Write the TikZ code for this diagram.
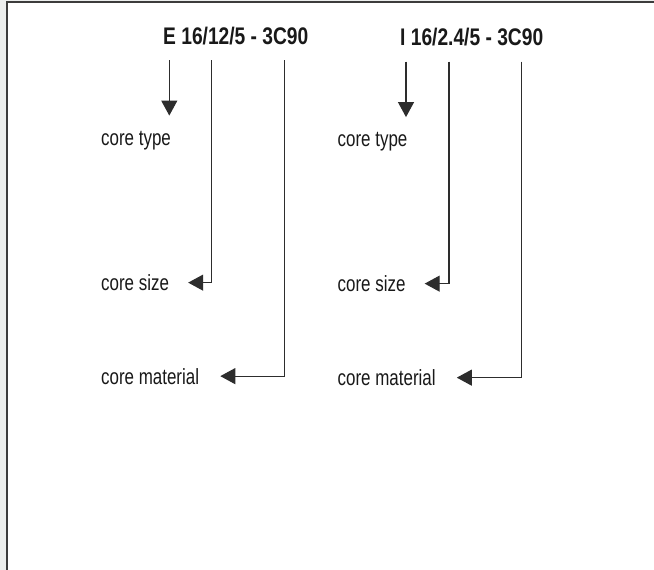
\documentclass[tikz,border=0pt]{standalone}
\usepackage{fontspec}
\newfontfamily\labelfont[FakeStretch=0.77]{Liberation Sans}
\newfontfamily\codefont[FakeStretch=0.8]{Liberation Sans}
\definecolor{framegray}{RGB}{236, 238, 237}
\definecolor{framedark}{RGB}{60, 60, 60}
\definecolor{linegray}{RGB}{45, 45, 45}
\definecolor{textgray}{RGB}{25, 25, 25}
\usetikzlibrary{arrows.meta, calc}
\tikzset{
    codename/.style={anchor=base west, inner sep=0pt, text=textgray, font=\codefont\bfseries\fontsize{24pt}{28pt}\selectfont},
    partlabel/.style={anchor=base west, inner sep=0pt, text=textgray, font=\labelfont\fontsize{22pt}{26pt}\selectfont},
    keyarrow/.style={-{Triangle[length=15pt, width=16pt]}, line width=1.1pt, draw=linegray},
}
\begin{document}
\begin{tikzpicture}[x=1pt, y=-1pt]
    \useasboundingbox (0,0) rectangle (654,570);
    % frame
    \fill[framegray] (0,0) rectangle (654,570);
    \fill[white] (7,2) rectangle (654,570);
    \draw[framedark, line width=1.6pt] (7,570) -- (7,2) -- (654,2);

    % E core
    \node[codename] (ecode) at (163,44.5) {E 16/12/5 - 3C90};
    \coordinate (etype) at (169.3,60);
    \coordinate (esize) at (211.7,60);
    \coordinate (emat) at (284.4,60);
    \node[partlabel] (etypelbl) at (101,145) {core type};
    \node[partlabel] (esizelbl) at (101,290.5) {core size};
    \node[partlabel] (ematlbl) at (101,384) {core material};

    % I core
    \node[codename] (icode) at (400,45.7) {I 16/2.4/5 - 3C90};
    \coordinate (itype) at (406,61.7);
    \coordinate (isize) at (449,61.7);
    \coordinate (imat) at (521.7,61.7);
    \node[partlabel] (itypelbl) at (337.5,146.5) {core type};
    \node[partlabel] (isizelbl) at (337.5,291.5) {core size};
    \node[partlabel] (imatlbl) at (337.5,385.5) {core material};

    % Arrows
    \draw[keyarrow] (etype) -- ($(etype |- etypelbl.north)+(0,-15)$);
    \draw[keyarrow] (esize) |- ($(esizelbl.east)+(19,0)$);
    \draw[keyarrow] (emat) |- ($(ematlbl.east)+(21,0)$);
    \draw[keyarrow] (itype) -- ($(itype |- itypelbl.north)+(0,-15)$);
    \draw[keyarrow] (isize) |- ($(isizelbl.east)+(19,0)$);
    \draw[keyarrow] (imat) |- ($(imatlbl.east)+(21,0)$);
\end{tikzpicture}
\end{document}
